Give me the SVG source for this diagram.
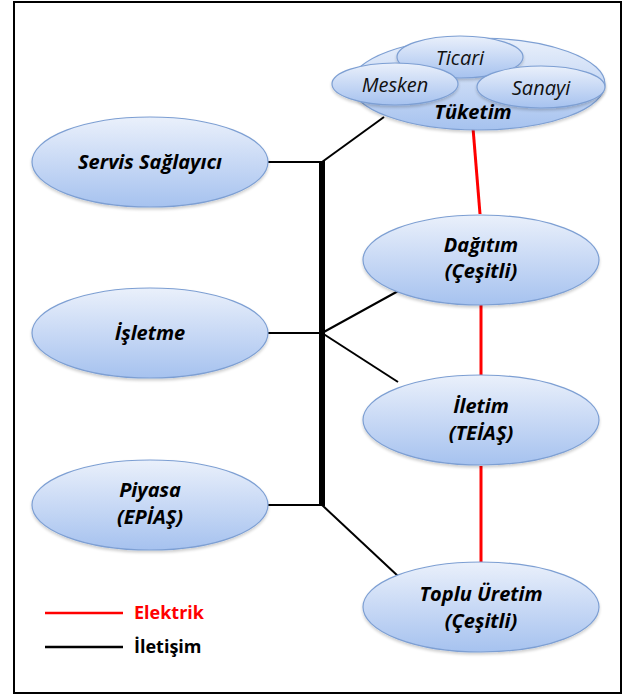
<svg xmlns="http://www.w3.org/2000/svg" width="624" height="695" viewBox="0 0 624 695">
<defs>
<linearGradient id="g" x1="0" y1="0" x2="0" y2="1">
<stop offset="0" stop-color="#eaf0fb"/>
<stop offset="1" stop-color="#a6c2ef"/>
</linearGradient>
<filter id="sh" x="-10%" y="-10%" width="120%" height="130%">
<feGaussianBlur in="SourceAlpha" stdDeviation="1.5"/>
<feOffset dy="2" result="b"/>
<feComponentTransfer><feFuncA type="linear" slope="0.2"/></feComponentTransfer>
<feMerge><feMergeNode/><feMergeNode in="SourceGraphic"/></feMerge>
</filter>
</defs>
<style>
.n{fill:url(#g);stroke:#7d9fd3;stroke-width:1.2;filter:url(#sh)}
.t{font-family:"Open Sans","Noto Sans",sans-serif;font-style:italic;font-weight:bold;font-size:20px;text-anchor:middle;fill:#000}
.s{font-family:"Open Sans","Noto Sans",sans-serif;font-style:italic;font-size:20px;text-anchor:middle;fill:#111}
.k{stroke:#000;stroke-width:2;fill:none}
.r{stroke:#ff0000;stroke-width:3;fill:none}
.l{font-family:"Open Sans","Noto Sans",sans-serif;font-weight:bold;font-size:18px}
</style>
<rect x="14" y="2" width="607" height="691" fill="#fff" stroke="#000" stroke-width="2"/>
<g id="connectors">
<line class="k" x1="268" y1="162" x2="322" y2="162"/>
<line class="k" x1="268" y1="333" x2="322" y2="333"/>
<line class="k" x1="268" y1="505" x2="322" y2="505"/>
<line x1="322" y1="161" x2="322" y2="506" stroke="#000" stroke-width="6"/>
<line class="k" x1="322" y1="162" x2="384" y2="117"/>
<line class="k" x1="322" y1="333" x2="400" y2="290"/>
<line class="k" x1="322" y1="333" x2="398" y2="382"/>
<line class="k" x1="322" y1="505" x2="399" y2="577"/>
<line class="r" x1="473" y1="128" x2="480" y2="214"/>
<line class="r" x1="481" y1="305" x2="481" y2="376"/>
<line class="r" x1="481" y1="466" x2="481" y2="563"/>
</g>
<g id="tuketim">
<ellipse class="n" cx="478" cy="84" rx="127" ry="46"/>
<ellipse class="n" cx="460" cy="57" rx="63" ry="21"/>
<ellipse class="n" cx="395" cy="84" rx="63" ry="21"/>
<ellipse class="n" cx="541" cy="87" rx="64" ry="21"/>
<text class="s" x="460" y="65">Ticari</text>
<text class="s" x="395" y="92">Mesken</text>
<text class="s" x="541" y="95">Sanayi</text>
<text class="t" x="473" y="119">Tüketim</text>
</g>
<g id="servis">
<ellipse class="n" cx="150" cy="162" rx="118" ry="45"/>
<text class="t" x="150" y="169">Servis Sağlayıcı</text>
</g>
<g id="isletme">
<ellipse class="n" cx="150" cy="333" rx="118" ry="45"/>
<text class="t" x="150" y="340">İşletme</text>
</g>
<g id="piyasa">
<ellipse class="n" cx="150" cy="505" rx="118" ry="45"/>
<text class="t" x="150" y="497">Piyasa</text>
<text class="t" x="150" y="524">(EPİAŞ)</text>
</g>
<g id="dagitim">
<ellipse class="n" cx="481" cy="260" rx="118" ry="45"/>
<text class="t" x="481" y="252">Dağıtım</text>
<text class="t" x="481" y="278">(Çeşitli)</text>
</g>
<g id="iletim">
<ellipse class="n" cx="481" cy="420" rx="118" ry="45"/>
<text class="t" x="481" y="413">İletim</text>
<text class="t" x="481" y="440">(TEİAŞ)</text>
</g>
<g id="toplu">
<ellipse class="n" cx="481" cy="607" rx="118" ry="45"/>
<text class="t" x="481" y="601">Toplu Üretim</text>
<text class="t" x="481" y="628">(Çeşitli)</text>
</g>
<g id="legend">
<line x1="45" y1="613" x2="123" y2="613" stroke="#ff0000" stroke-width="2.5"/>
<line x1="45" y1="647" x2="123" y2="647" stroke="#000" stroke-width="2.5"/>
<text class="l" x="134" y="619" fill="#ff0000">Elektrik</text>
<text class="l" x="134" y="653" fill="#000">İletişim</text>
</g>
</svg>
